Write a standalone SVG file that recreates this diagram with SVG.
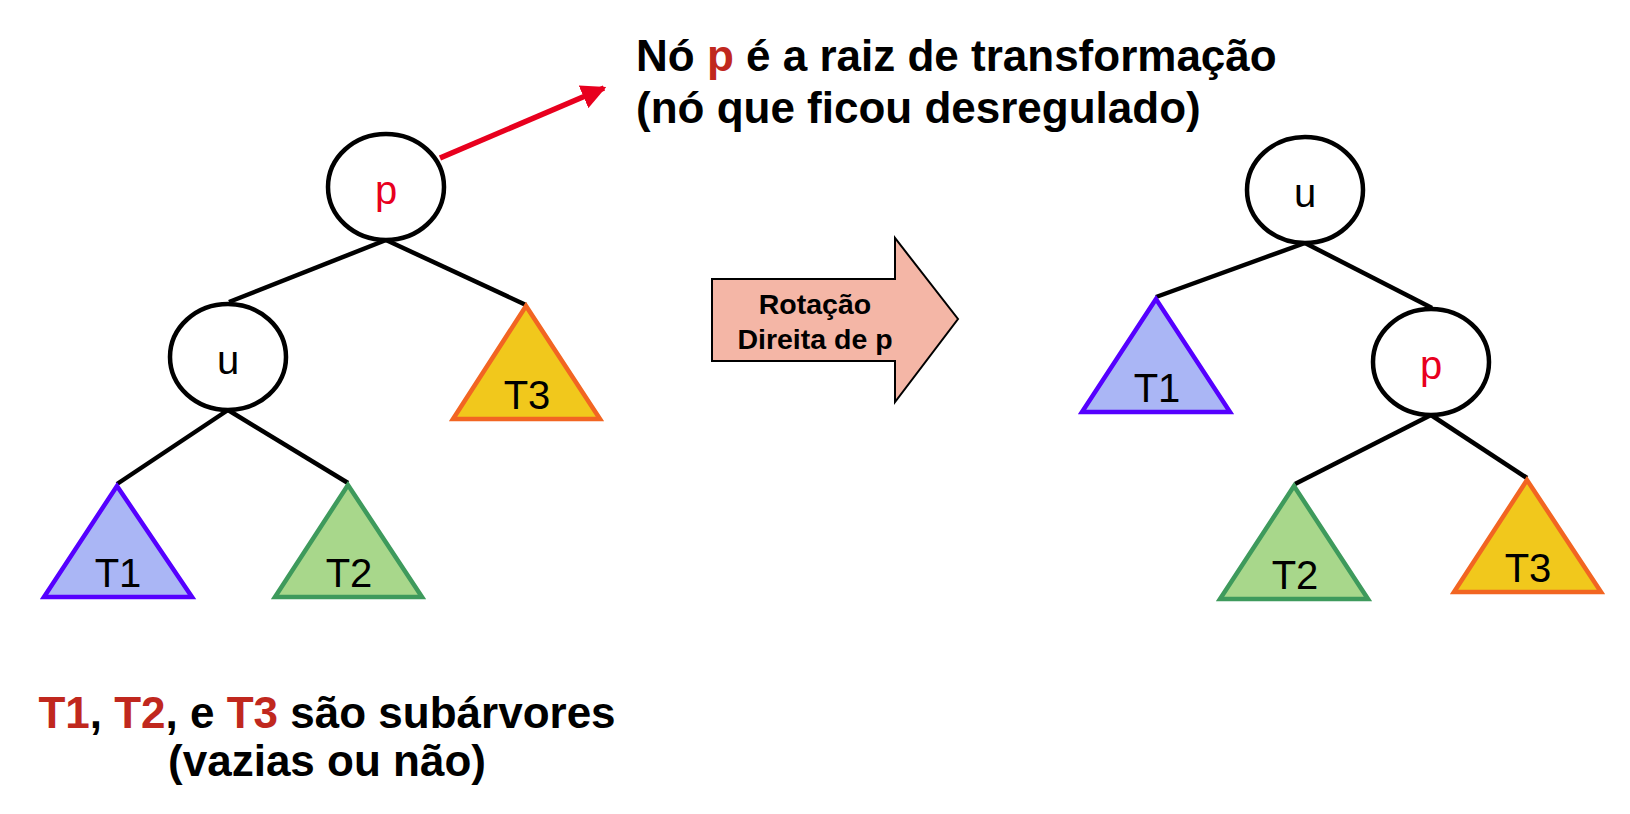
<svg xmlns="http://www.w3.org/2000/svg" width="1630" height="814" viewBox="0 0 1630 814">
<defs>
<style>
.node{fill:#fff;stroke:#000;stroke-width:4.5}
.edge{stroke:#000;stroke-width:4.5;fill:none}
.lbl{font-family:"Liberation Sans",Arial,sans-serif;font-size:40px;text-anchor:middle;fill:#000}
.red{fill:#E8001E}
.t1{fill:#AAB6F5;stroke:#5500FF;stroke-width:4.5}
.t2{fill:#A8D78B;stroke:#3E9A5C;stroke-width:4.5}
.t3{fill:#F1C81C;stroke:#F26522;stroke-width:4.5}
.big{font-family:"Liberation Sans",Arial,sans-serif;font-weight:bold;font-size:44px;fill:#000}
.dr{fill:#C0281E}
.arr{font-family:"Liberation Sans",Arial,sans-serif;font-weight:bold;font-size:28.5px;text-anchor:middle;fill:#000}
</style>
<marker id="ah" viewBox="0 0 10 10" refX="9" refY="5" markerWidth="4.5" markerHeight="4.5" orient="auto" markerUnits="strokeWidth">
<path d="M0,0 L10,5 L0,10 z" fill="#E8001E"/>
</marker>
</defs>
<rect width="1630" height="814" fill="#fff"/>

<g id="connectors">
<line class="edge" x1="386" y1="240" x2="229" y2="302"/>
<line class="edge" x1="386" y1="240" x2="526" y2="305"/>
<line class="edge" x1="228" y1="410" x2="117" y2="484"/>
<line class="edge" x1="228" y1="410" x2="348" y2="483"/>
<line class="edge" x1="1305" y1="243" x2="1156" y2="297"/>
<line class="edge" x1="1305" y1="243" x2="1432" y2="308"/>
<line class="edge" x1="1431" y1="415" x2="1295" y2="484"/>
<line class="edge" x1="1431" y1="415" x2="1527" y2="478"/>
<line x1="440" y1="158" x2="604" y2="88" stroke="#E8001E" stroke-width="5.5" marker-end="url(#ah)"/>
</g>

<g id="title">
<text class="big" x="636" y="71">Nó <tspan class="dr">p</tspan> é a raiz de transformação</text>
<text class="big" x="636" y="123">(nó que ficou desregulado)</text>
</g>

<g id="left-p">
<ellipse class="node" cx="386" cy="187" rx="58" ry="53"/>
<text class="lbl red" x="386" y="204">p</text>
</g>
<g id="left-u">
<ellipse class="node" cx="228" cy="357" rx="58" ry="53"/>
<text class="lbl" x="228" y="374">u</text>
</g>
<g id="left-T1">
<polygon class="t1" points="117,486 44,597 192,597"/>
<text class="lbl" x="118" y="587">T1</text>
</g>
<g id="left-T2">
<polygon class="t2" points="348,485 275,597 422,597"/>
<text class="lbl" x="349" y="587">T2</text>
</g>
<g id="left-T3">
<polygon class="t3" points="526,306 453,419 600,419"/>
<text class="lbl" x="527" y="409">T3</text>
</g>

<g id="rotation-arrow">
<polygon points="712,279 895,279 895,238 958,319 895,402 895,361 712,361" fill="#F4B6A6" stroke="#000" stroke-width="2"/>
<text class="arr" x="815" y="314">Rotação</text>
<text class="arr" x="815" y="349">Direita de p</text>
</g>

<g id="right-u">
<ellipse class="node" cx="1305" cy="190" rx="58" ry="53"/>
<text class="lbl" x="1305" y="207">u</text>
</g>
<g id="right-p">
<ellipse class="node" cx="1431" cy="362" rx="58" ry="53"/>
<text class="lbl red" x="1431" y="379">p</text>
</g>
<g id="right-T1">
<polygon class="t1" points="1156,299 1082,412 1230,412"/>
<text class="lbl" x="1157" y="402">T1</text>
</g>
<g id="right-T2">
<polygon class="t2" points="1294,486 1220,599 1368,599"/>
<text class="lbl" x="1295" y="589">T2</text>
</g>
<g id="right-T3">
<polygon class="t3" points="1527,480 1454,592 1601,592"/>
<text class="lbl" x="1528" y="582">T3</text>
</g>

<g id="caption">
<text class="big" x="327" y="728" text-anchor="middle"><tspan class="dr">T1</tspan>, <tspan class="dr">T2</tspan>, e <tspan class="dr">T3</tspan> são subárvores</text>
<text class="big" x="327" y="776" text-anchor="middle">(vazias ou não)</text>
</g>
</svg>
